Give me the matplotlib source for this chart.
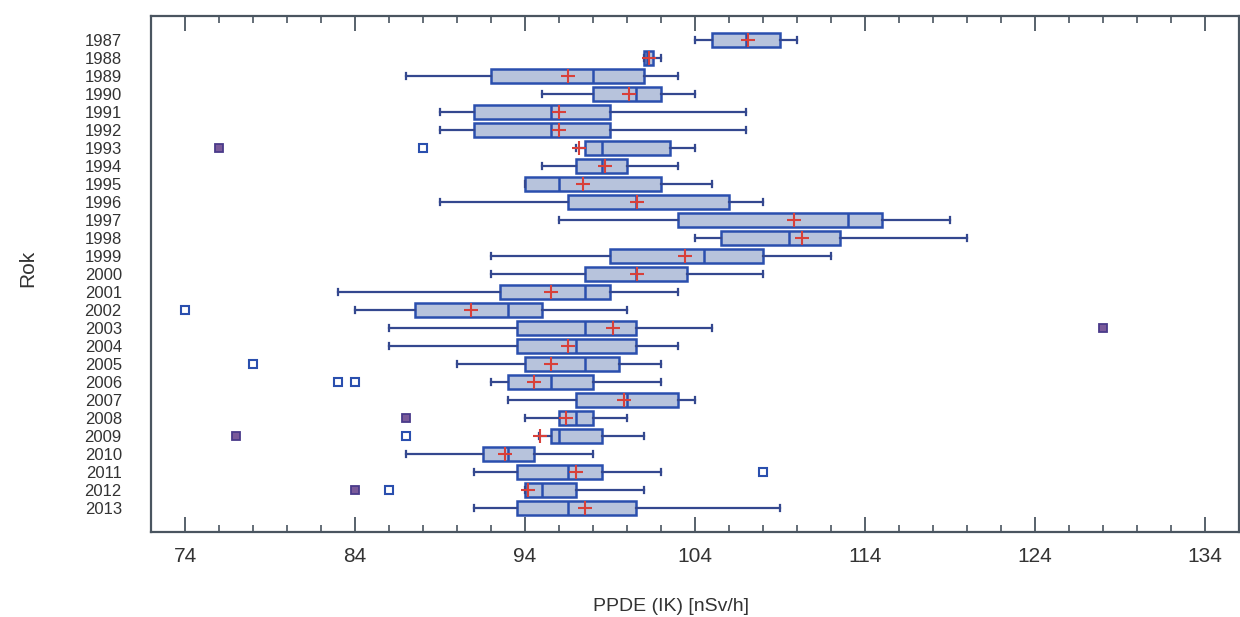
import numpy as np
import matplotlib
matplotlib.use("Agg")
import matplotlib.pyplot as plt

plt.rcParams['font.family'] = ['Liberation Sans', 'DejaVu Sans']

years = list(range(1987, 2014))

# whisker low, Q1, median, Q3, whisker high, mean  (nSv/h)
whis_lo = [104, 101, 87, 95, 89, 89, 97, 95, 94, 89, 96, 104, 92, 92,
           83, 84, 86, 86, 90, 92, 93, 94, 94.8, 87, 91, 94, 91]
q1 = [105, 101, 92, 98, 91, 91, 97.5, 97, 94, 96.5, 103, 105.5, 99, 97.5,
      92.5, 87.5, 93.5, 93.5, 94, 93, 97, 96, 95.5, 91.5, 93.5, 94, 93.5]
med = [107, 101.2, 98, 100.5, 95.5, 95.5, 98.5, 98.5, 96, 100.5, 113, 109.5, 104.5, 100.5,
       97.5, 93, 97.5, 97, 97.5, 95.5, 100, 97, 96, 93, 96.5, 95, 96.5]
q3 = [109, 101.5, 101, 102, 99, 99, 102.5, 100, 102, 106, 115, 112.5, 108, 103.5,
      99, 95, 100.5, 100.5, 99.5, 98, 103, 98, 98.5, 94.5, 98.5, 97, 100.5]
whis_hi = [110, 102, 103, 104, 107, 107, 104, 103, 105, 108, 119, 120, 112, 108,
           103, 100, 105, 103, 102, 102, 104, 100, 101, 98, 102, 101, 109]
means = [107.1, 101.3, 96.5, 100.1, 96, 96, 97.2, 98.7, 97.4, 100.6, 109.8, 110.3, 103.4, 100.6,
         95.5, 90.8, 99.2, 96.5, 95.5, 94.5, 99.8, 96.4, 94.9, 92.8, 97.0, 94.2, 97.5]

# outside points (open squares) and far outside points (filled)
out_years = [1993, 2002, 2005, 2006, 2006, 2009, 2011, 2012]
out_vals = [88, 74, 78, 83, 84, 87, 108, 86]
far_years = [1993, 2003, 2008, 2009, 2012]
far_vals = [76, 128, 87, 77, 84]

box_face = '#b7c3dc'
box_edge = '#2a4fae'
line_col = '#34488f'

fig = plt.figure(figsize=(12.4, 6.17), dpi=100)
ax = fig.add_axes([0.1218, 0.1378, 0.8774, 0.8363])

pos = {y: i + 1 for i, y in enumerate(years)}

stats = []
for i, y in enumerate(years):
    stats.append(dict(whislo=whis_lo[i], q1=q1[i], med=med[i], q3=q3[i],
                      whishi=whis_hi[i], mean=means[i], fliers=[], label=str(y)))

ax.bxp(stats, positions=[pos[y] for y in years], orientation='horizontal',
       widths=0.78, patch_artist=True, showmeans=True, capwidths=0.32,
       boxprops=dict(facecolor=box_face, edgecolor=box_edge, linewidth=1.8),
       medianprops=dict(color=box_edge, linewidth=1.8),
       whiskerprops=dict(color=line_col, linewidth=1.6),
       capprops=dict(color=line_col, linewidth=1.6),
       meanprops=dict(marker='+', markeredgecolor='#d8403a', markersize=10, markeredgewidth=1.5))

ax.plot(out_vals, [pos[y] for y in out_years], linestyle='none', marker='s',
        markersize=6, markerfacecolor='white', markeredgecolor=box_edge, markeredgewidth=1.5)
ax.plot(far_vals, [pos[y] for y in far_years], linestyle='none', marker='s',
        markersize=6, markerfacecolor='#7a5a9a', markeredgecolor='#4a3a8a', markeredgewidth=1.3)

ax.set_xlim(72, 136)
ax.set_ylim(28.33, -0.33)
ax.set_xticks(np.arange(74, 135, 10))
ax.set_xticks(np.arange(74, 136, 2), minor=True)
ax.set_yticks([pos[y] for y in years])
ax.set_yticklabels([str(y) for y in years])

ax.tick_params(axis='x', which='major', direction='in', length=11, width=1.3,
               top=True, color='#4a5560', labelsize=15, pad=11, labelcolor='#333333')
ax.tick_params(axis='x', which='minor', direction='in', length=5, width=1.2,
               top=True, color='#4a5560')
ax.tick_params(axis='y', which='both', length=0, labelsize=12, pad=21, labelcolor='#333333')

for s in ax.spines.values():
    s.set_color('#4a5560')
    s.set_linewidth(1.6)

ax.set_xlabel('PPDE (IK) [nSv/h]', fontsize=14, color='#333333')
ax.xaxis.set_label_coords(0.478, -0.128)
ax.set_ylabel('Rok', fontsize=15, color='#333333')
ax.yaxis.set_label_coords(-0.105, 0.51)

fig.savefig('out.png', dpi=100)
